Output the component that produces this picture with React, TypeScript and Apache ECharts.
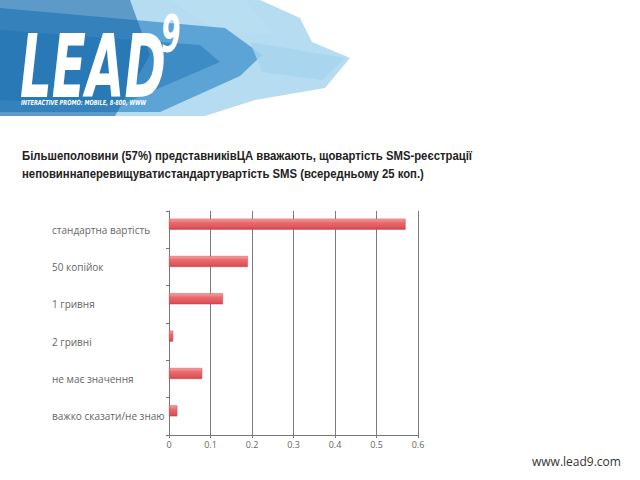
import React, { useEffect, useRef } from "react";
import * as echarts from "echarts";

const categories = [
  "стандартна вартість",
  "50 копійок",
  "1 гривня",
  "2 гривні",
  "не має значення",
  "важко сказати/не знаю",
];
const shares = [0.57, 0.19, 0.13, 0.01, 0.08, 0.02];
const emptySeries = [null, null, null, null, null, null];
const xTicks = [0, 0.1, 0.2, 0.3, 0.4, 0.5, 0.6];
const titleLines = [
  "Більшеполовини (57%) представниківЦА вважають, щовартість SMS-реєстрації",
  "неповиннаперевищуватистандартувартість SMS (всередньому 25 коп.)",
];
const logoText = "LEAD";
const logoSup = "9";
const logoSub = "INTERACTIVE PROMO: MOBILE, 8-800, WWW";
const website = "www.lead9.com";

export default function App() {
  const ref = useRef<HTMLDivElement>(null);
  useEffect(() => {
    if (!ref.current) return;
    const chart = echarts.init(ref.current, null, { renderer: "svg" });
    const barGrad = new echarts.graphic.LinearGradient(0, 0, 0, 1, [
      { offset: 0, color: "#f4a3a4" },
      { offset: 0.35, color: "#ea6a6e" },
      { offset: 0.8, color: "#e0555a" },
      { offset: 1, color: "#c9434a" },
    ]);
    chart.setOption({
      animation: false,
      backgroundColor: "#ffffff",
      grid: { left: 169, right: 222, top: 211, bottom: 45, containLabel: false },
      xAxis: {
        type: "value",
        min: 0,
        max: 0.6,
        interval: 0.1,
        axisLine: { show: true, lineStyle: { color: "#777", width: 1 } },
        axisTick: { show: true, length: 3, lineStyle: { color: "#777" } },
        axisLabel: {
          color: "#666",
          fontSize: 9,
          fontFamily: "Open Sans",
          margin: 5,
          formatter: (v: number) => {
            const found = xTicks.find((t) => Math.abs(t - v) < 1e-9);
            return found === undefined ? "" : String(Math.round(found * 10) / 10);
          },
        },
        splitLine: { show: true, lineStyle: { color: "#7a7a7a", width: 1 } },
      },
      yAxis: {
        type: "category",
        data: categories,
        inverse: true,
        axisLine: { show: true, lineStyle: { color: "#777", width: 1 } },
        axisTick: { show: true, length: 3, lineStyle: { color: "#777" } },
        axisLabel: {
          color: "#666",
          fontSize: 10,
          fontFamily: "Open Sans",
          margin: 117,
          align: "left",
        },
        splitLine: { show: false },
      },
      series: [
        {
          type: "bar",
          data: shares,
          barWidth: 11,
          barGap: "0%",
          itemStyle: { color: barGrad, borderColor: "#d24c52", borderWidth: 0.5 },
        },
        {
          type: "bar",
          data: emptySeries,
          barWidth: 11,
          barGap: "0%",
        },
      ],
      graphic: [
        // logo shapes
        {
          type: "polygon",
          shape: { points: [[0, 0], [260, 0], [300, 18], [312, 42], [350, 58], [325, 88], [255, 100], [205, 116], [0, 116]] },
          style: { fill: "#79bfe3", opacity: 0.55 },
        },
        {
          type: "polygon",
          shape: { points: [[170, 0], [245, 0], [275, 35], [215, 30]] },
          style: { fill: "#b9def2", opacity: 0.8 },
        },
        {
          type: "polygon",
          shape: { points: [[0, 8], [225, 28], [262, 55], [240, 76], [160, 112], [0, 112]] },
          style: { fill: "#2c86c8", opacity: 0.65 },
        },
        {
          type: "polygon",
          shape: { points: [[250, 42], [345, 58], [322, 80], [262, 72]] },
          style: { fill: "#a7d3ee", opacity: 0.8 },
        },
        {
          type: "polygon",
          shape: { points: [[0, 0], [130, 0], [150, 55], [115, 116], [0, 116]] },
          style: { fill: "#1565a8", opacity: 0.55 },
        },
        {
          type: "polygon",
          shape: { points: [[0, 30], [200, 45], [220, 62], [120, 105], [0, 100]] },
          style: { fill: "#1a6fb2", opacity: 0.45 },
        },
        {
          type: "text",
          x: 20,
          y: 22,
          scaleX: 0.63,
          style: {
            text: logoText,
            fill: "#ffffff",
            font: "italic bold 88px 'DejaVu Sans Condensed', 'Liberation Sans Narrow', sans-serif",
            textVerticalAlign: "top",
          },
        },
        {
          type: "text",
          x: 161,
          y: 8,
          scaleX: 0.6,
          style: {
            text: logoSup,
            fill: "#ffffff",
            font: "italic bold 52px 'DejaVu Sans Condensed', sans-serif",
            textVerticalAlign: "top",
          },
        },
        {
          type: "text",
          x: 21,
          y: 99,
          scaleX: 0.8,
          style: {
            text: logoSub,
            fill: "#ffffff",
            font: "italic bold 7px 'DejaVu Sans Condensed', sans-serif",
            textVerticalAlign: "top",
          },
        },
        // title
        {
          type: "text",
          x: 22,
          y: 149,
          scaleX: 0.84,
          style: {
            text: titleLines[0],
            fill: "#222222",
            font: "bold 13.5px 'Liberation Sans', Arial, sans-serif",
            textVerticalAlign: "top",
          },
        },
        {
          type: "text",
          x: 22,
          y: 167,
          scaleX: 0.84,
          style: {
            text: titleLines[1],
            fill: "#222222",
            font: "bold 13.5px 'Liberation Sans', Arial, sans-serif",
            textVerticalAlign: "top",
          },
        },
        {
          type: "text",
          x: 532,
          y: 455,
          style: {
            text: website,
            fill: "#333333",
            font: "12px 'Open Sans', sans-serif",
            textVerticalAlign: "top",
          },
        },
      ],
    });
    return () => chart.dispose();
  }, []);
  return <div ref={ref} style={{ width: 640, height: 480, position: "absolute", left: 0, top: 0 }} />;
}
